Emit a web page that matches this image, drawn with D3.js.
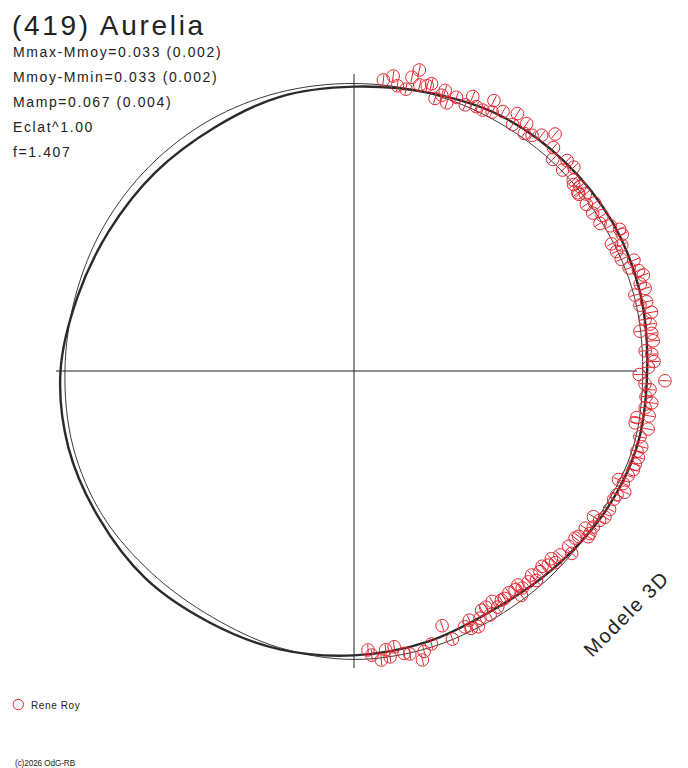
<!DOCTYPE html>
<html>
<head>
<meta charset="utf-8">
<script src="https://cdn.jsdelivr.net/npm/d3@7"></script>
<style>
  body { margin: 0; background: #fff; }
  svg { display: block; font-family: "Liberation Sans", Arial, sans-serif; }
</style>
</head>
<body>
<div id="chart"></div>
<script>
// model light curve, phase -> delta mag (3D model, thick line)
const modelPhase = [0, 0.042, 0.083, 0.125, 0.167, 0.208, 0.25, 0.292, 0.333, 0.375, 0.417, 0.458,
  0.5, 0.542, 0.583, 0.625, 0.667, 0.708, 0.75, 0.792, 0.833, 0.875, 0.917, 0.958];
const model3D = [0.010, -0.002, -0.022, -0.030, -0.034, -0.029, -0.018, -0.017, 0.000, 0.022, 0.035, 0.022,
  0.010, -0.002, -0.008, -0.021, -0.022, -0.026, -0.019, 0.004, 0.017, 0.021, 0.022, 0.011];
// thin reference curve
const modelRef = [0.000, 0.000, 0.000, -0.003, -0.005, -0.008, -0.004, -0.006, 0.008, 0.010, 0.010, 0.002,
  -0.003, 0.003, 0.011, 0.005, -0.008, -0.011, -0.005, -0.003, -0.005, -0.006, -0.006, -0.003];

// observations (Rene Roy)
const obsPhase = [0.016, 0.021, 0.024, 0.029, 0.031, 0.034, 0.036, 0.040, 0.042, 0.046, 0.050, 0.053,
  0.049, 0.057, 0.063, 0.065, 0.069, 0.073, 0.076, 0.078, 0.083, 0.090, 0.091, 0.097, 0.099, 0.103,
  0.107, 0.112, 0.116, 0.120, 0.126, 0.128, 0.131, 0.136, 0.143, 0.138, 0.141, 0.144, 0.146, 0.151,
  0.153, 0.157, 0.161, 0.164, 0.168, 0.172, 0.175, 0.177, 0.180, 0.182, 0.187, 0.190, 0.193, 0.196,
  0.199, 0.203, 0.206, 0.208, 0.213, 0.214, 0.219, 0.222, 0.225, 0.228, 0.230, 0.234, 0.239, 0.241,
  0.245, 0.248, 0.252, 0.255, 0.257, 0.260, 0.264, 0.267, 0.270, 0.274, 0.276, 0.279, 0.281, 0.286,
  0.291, 0.294, 0.297, 0.301, 0.304, 0.308, 0.312, 0.313, 0.317, 0.320, 0.323, 0.329, 0.334, 0.337,
  0.337, 0.342, 0.345, 0.346, 0.351, 0.348, 0.353, 0.359, 0.361, 0.366, 0.371, 0.375, 0.378, 0.381,
  0.386, 0.386, 0.390, 0.395, 0.399, 0.403, 0.398, 0.409, 0.414, 0.413, 0.422, 0.419, 0.425, 0.447,
  0.435, 0.432, 0.428, 0.444, 0.456, 0.461, 0.463, 0.469, 0.472, 0.477, 0.480, 0.482, 0.485, 0.490,
  0.492, 0.371, 0.396, 0.407, 0.419, 0.431];
const obsMag = [-0.016, -0.032, -0.003, 0.003, -0.038, -0.065, -0.019, -0.022, -0.032, 0.010, -0.024, 0.012,
  -0.006, -0.015, -0.003, -0.037, -0.012, -0.011, -0.054, -0.019, -0.037, -0.055, -0.018, -0.045, -0.015, -0.025,
  -0.044, -0.074, -0.038, -0.009, -0.038, -0.007, -0.039, -0.010, 0.004, -0.002, -0.013, 0.005, -0.012, 0.005,
  -0.019, 0.004, -0.017, 0.002, -0.023, -0.043, -0.043, 0.001, -0.027, -0.003, -0.007, -0.043, -0.020, -0.045,
  -0.055, -0.037, -0.048, -0.011, -0.042, -0.019, -0.050, -0.026, -0.039, -0.004, -0.040, -0.042, -0.014, -0.034,
  -0.040, -0.022, 0.007, -0.075, -0.012, -0.029, -0.018, -0.038, -0.019, -0.035, 0.003, 0.005, -0.039, -0.019,
  -0.032, -0.021, -0.031, -0.028, -0.028, -0.019, 0.005, -0.014, -0.029, -0.010, -0.007, -0.010, -0.009, 0.000,
  0.023, 0.006, 0.025, 0.003, 0.027, 0.002, 0.033, 0.033, 0.011, 0.036, 0.048, 0.041, 0.052, 0.044,
  0.054, 0.031, 0.044, 0.041, 0.050, 0.054, 0.024, 0.048, 0.060, 0.035, 0.052, 0.026, 0.032, 0.057,
  0.028, 0.015, 0.010, 0.006, 0.012, -0.005, -0.030, -0.003, 0.002, 0.028, -0.002, 0.022, -0.009, 0.009,
  0.026, 0.030, 0.057, 0.047, 0.054, 0.041];

const title = '(419) Aurelia';
const statLines = [
  'Mmax-Mmoy=0.033 (0.002)',
  'Mmoy-Mmin=0.033 (0.002)',
  'Mamp=0.067 (0.004)',
  'Eclat^1.00',
  'f=1.407'
];
const modelLabel = 'Modele 3D';
const observer = 'Rene Roy';
const credit = '(c)2026 OdG-RB';

const width = 688;
const height = 768;
const cx = 354;
const cy = 371;
const red = '#e42630';
const ink = '#222';

const svg = d3.select('#chart').append('svg')
  .attr('width', width)
  .attr('height', height);

svg.append('rect').attr('width', width).attr('height', height).attr('fill', '#fff');

// phase 0 at top, clockwise
const angle = d3.scaleLinear().domain([0, 1]).range([0, 2 * Math.PI]);
// brighter = farther from centre
const radius = d3.scaleLinear().domain([0, 0.1]).range([287.5, 256]);

const g = svg.append('g').attr('transform', `translate(${cx},${cy})`);

// axes
g.append('line')
  .attr('x1', -298).attr('x2', 283).attr('y1', 0).attr('y2', 0)
  .attr('stroke', ink).attr('stroke-width', 1);
g.append('line')
  .attr('x1', 0).attr('x2', 0).attr('y1', -297).attr('y2', 297)
  .attr('stroke', ink).attr('stroke-width', 1);

const radial = d3.lineRadial()
  .angle(d => angle(d.p))
  .radius(d => radius(d.m))
  .curve(d3.curveCatmullRomClosed.alpha(0.5));

g.append('path')
  .datum(modelPhase.map((p, i) => ({p: p, m: modelRef[i]})))
  .attr('d', radial)
  .attr('fill', 'none')
  .attr('stroke', ink)
  .attr('stroke-width', 0.9);

g.append('path')
  .datum(modelPhase.map((p, i) => ({p: p, m: model3D[i]})))
  .attr('d', radial)
  .attr('fill', 'none')
  .attr('stroke', '#2a2a2a')
  .attr('stroke-width', 2.4);

// observations: circle + radial bar
const obs = obsPhase.map((p, i) => ({p: p, m: obsMag[i]}));
const pt = (a, r) => [r * Math.sin(a), -r * Math.cos(a)];

const og = g.append('g').attr('class', 'obs');
og.selectAll('circle')
  .data(obs)
  .enter()
  .append('circle')
  .attr('cx', d => pt(angle(d.p), radius(d.m))[0])
  .attr('cy', d => pt(angle(d.p), radius(d.m))[1])
  .attr('r', 6.3)
  .attr('fill', 'none')
  .attr('stroke', red)
  .attr('stroke-width', 1);

og.selectAll('line')
  .data(obs)
  .enter()
  .append('line')
  .attr('x1', d => pt(angle(d.p), radius(d.m) - 5.5)[0])
  .attr('y1', d => pt(angle(d.p), radius(d.m) - 5.5)[1])
  .attr('x2', d => pt(angle(d.p), radius(d.m) + 5.5)[0])
  .attr('y2', d => pt(angle(d.p), radius(d.m) + 5.5)[1])
  .attr('stroke', red)
  .attr('stroke-width', 1);

// texts
svg.append('text')
  .attr('x', 12).attr('y', 35)
  .attr('font-size', 28)
  .attr('letter-spacing', 2.7)
  .attr('fill', ink)
  .text(title);

svg.selectAll('text.stat')
  .data(statLines)
  .enter()
  .append('text')
  .attr('class', 'stat')
  .attr('x', 13)
  .attr('y', (d, i) => 57 + i * 25)
  .attr('font-size', 14)
  .attr('letter-spacing', 1.6)
  .attr('fill', ink)
  .text(d => d);

svg.append('text')
  .attr('transform', 'translate(592,658) rotate(-45)')
  .attr('font-size', 20)
  .attr('letter-spacing', 1.6)
  .attr('fill', ink)
  .text(modelLabel);

svg.append('circle')
  .attr('cx', 18.3).attr('cy', 704.5).attr('r', 5.2)
  .attr('fill', 'none').attr('stroke', red).attr('stroke-width', 1);
svg.append('text')
  .attr('x', 31).attr('y', 709)
  .attr('font-size', 10)
  .attr('letter-spacing', 0.6)
  .attr('fill', ink)
  .text(observer);

svg.append('text')
  .attr('x', 15).attr('y', 766)
  .attr('font-size', 8.2)
  .attr('letter-spacing', -0.1)
  .attr('fill', ink)
  .text(credit);
</script>
</body>
</html>
